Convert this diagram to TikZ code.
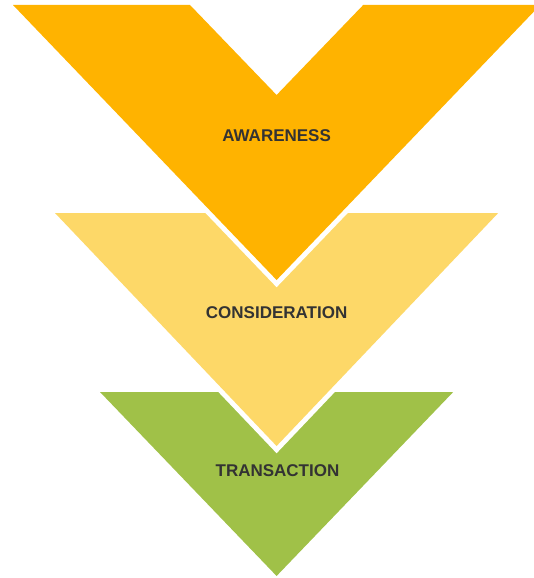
\documentclass[tikz,border=0pt]{standalone}
\usepackage{fontspec}
\setmainfont{Liberation Sans}
\definecolor{stageA}{HTML}{FFB300}
\definecolor{stageB}{HTML}{FDD868}
\definecolor{stageC}{HTML}{A0C148}
\definecolor{labelgray}{HTML}{333333}
\begin{document}
\begin{tikzpicture}[x=1pt,y=-1pt,
  gap/.style={draw=white,line width=10pt,line join=miter},
  stagelabel/.style={text=labelgray,font=\bfseries\fontsize{17}{20}\selectfont,inner sep=0pt}]
\useasboundingbox (0,0) rectangle (534,578);
\def\cx{276.6}
% bottom stage: plain triangle
\fill[stageC] (100,392) -- (453.2,392) -- (\cx,576) -- cycle;
% middle stage, with a white halo separating it from the stage below
\draw[gap] (55,213) -- (498.2,213) -- (\cx,446) -- cycle;
\fill[stageB] (55,213) -- (498.2,213) -- (\cx,446) -- cycle;
% top stage: chevron with a notch, white halo over the middle stage
\draw[gap] (13,5) -- (190,5) -- (\cx,95) -- (363.2,5) -- (540.2,5) -- (\cx,280) -- cycle;
\fill[stageA] (13,5) -- (190,5) -- (\cx,95) -- (363.2,5) -- (540.2,5) -- (\cx,280) -- cycle;
% labels
\node[stagelabel] (awareness) at (\cx,135.5) {AWARENESS};
\node[stagelabel] (consideration) at (\cx,313) {CONSIDERATION};
\node[stagelabel] (transaction) at (277.5,471) {TRANSACTION};
\end{tikzpicture}
\end{document}
